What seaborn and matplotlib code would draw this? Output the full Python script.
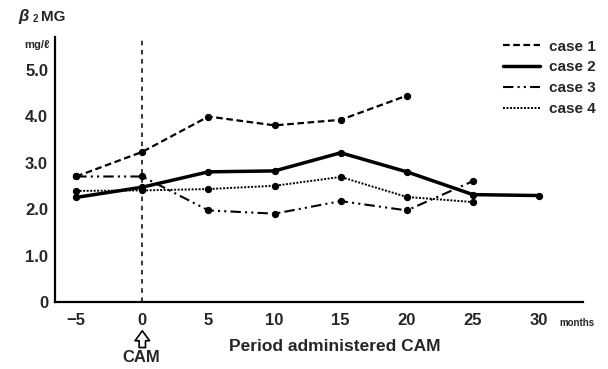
import matplotlib
matplotlib.use("Agg")
import matplotlib.pyplot as plt
from matplotlib.lines import Line2D
import seaborn as sns
import pandas as pd

# Data (months vs beta2-MG mg/l)
months = [-5, 0, 5, 10, 15, 20, 25, 30]
case1 = [2.70, 3.23, 3.99, 3.80, 3.92, 4.44, None, None]
case2 = [2.25, 2.47, 2.80, 2.82, 3.21, 2.80, 2.31, 2.29]
case3 = [2.70, 2.70, 1.97, 1.90, 2.17, 1.97, 2.60, None]
case4 = [2.39, 2.40, 2.43, 2.50, 2.69, 2.26, 2.15, None]
case_names = ["case 1", "case 2", "case 3", "case 4"]
xticks = [-5, 0, 5, 10, 15, 20, 25, 30]
yticks = [0, 1.0, 2.0, 3.0, 4.0, 5.0]
ytick_labels = ["0", "1.0", "2.0", "3.0", "4.0", "5.0"]

sns.set_theme(style="white")
plt.rcParams['font.family'] = ['Liberation Sans', 'DejaVu Sans']
plt.rcParams['font.weight'] = 'bold'

rows = []
for name, vals in zip(case_names, [case1, case2, case3, case4]):
    for m, v in zip(months, vals):
        if v is not None:
            rows.append({"month": m, "value": v, "case": name})
df = pd.DataFrame(rows)

styles = {
    "case 1": dict(ls=(0, (3, 1.6)), lw=1.6),
    "case 2": dict(ls="-", lw=2.5),
    "case 3": dict(ls=(0, (5, 2, 1, 2, 1, 2)), lw=1.5),
    "case 4": dict(ls=(0, (1, 0.8)), lw=1.4),
}

fig = plt.figure(figsize=(6.08, 3.69), dpi=100)
ax = fig.add_axes([0.0905, 0.1816, 0.868, 0.718])

for name in case_names:
    sub = df[df["case"] == name]
    sns.lineplot(data=sub, x="month", y="value", ax=ax, color="black",
                 marker="o", markersize=4.5, markeredgecolor="black",
                 linestyle=styles[name]["ls"], linewidth=styles[name]["lw"],
                 legend=False)

ax.axvline(0, color="black", ls=(0, (3, 3)), lw=1.1)

ax.set_xlim(-6.6, 33.3)
ax.set_ylim(0, 5.7)
ax.set_xticks(xticks)
ax.set_xticklabels(["\u22125"] + [str(t) for t in xticks[1:]], fontsize=12, fontweight="bold")
ax.set_yticks(yticks)
ax.set_yticklabels(ytick_labels, fontsize=12, fontweight="bold")
ax.tick_params(direction="in", length=4, width=1.2, color="black")
ax.tick_params(axis="x", pad=8)
ax.tick_params(axis="y", pad=5)
ax.set_xlabel("")
ax.set_ylabel("")
for side in ["top", "right"]:
    ax.spines[side].set_visible(False)
for side in ["left", "bottom"]:
    ax.spines[side].set_color("black")
    ax.spines[side].set_linewidth(1.6)

# legend (lines only)
handles = [Line2D([0], [0], color="black", linestyle=styles[n]["ls"],
                  linewidth=styles[n]["lw"]) for n in case_names]
leg = fig.legend(handles, case_names, loc="upper left", bbox_to_anchor=(0.805, 0.93),
                 frameon=False, fontsize=11, handlelength=2.4, labelspacing=0.45,
                 handletextpad=0.6)
for t in leg.get_texts():
    t.set_fontweight("bold")

# annotations
fig.text(0.03, 0.955, "\u03b2", fontsize=12, fontweight="bold", style="italic", va="center")
fig.text(0.053, 0.948, "2", fontsize=7, fontweight="bold", va="center")
fig.text(0.068, 0.955, "MG", fontsize=11, fontweight="bold", va="center")
fig.text(0.04, 0.877, "mg/\u2113", fontsize=8, fontweight="bold", va="center")
fig.text(0.92, 0.125, "months", fontsize=7, fontweight="bold", va="center")
fig.text(0.55, 0.06, "Period administered CAM", fontsize=12.5, fontweight="bold",
         ha="center", va="center")
ax.annotate("", xy=(0, -0.62), xytext=(0, -0.98), xycoords="data",
            annotation_clip=False,
            arrowprops=dict(arrowstyle="simple,head_width=0.8,head_length=0.55,tail_width=0.35",
                            facecolor="white", edgecolor="black", lw=1.2,
                            mutation_scale=13, shrinkA=0, shrinkB=0))
fig.text(0.233, 0.03, "CAM", fontsize=12, fontweight="bold", ha="center", va="center")

fig.savefig("out.png", dpi=100)
